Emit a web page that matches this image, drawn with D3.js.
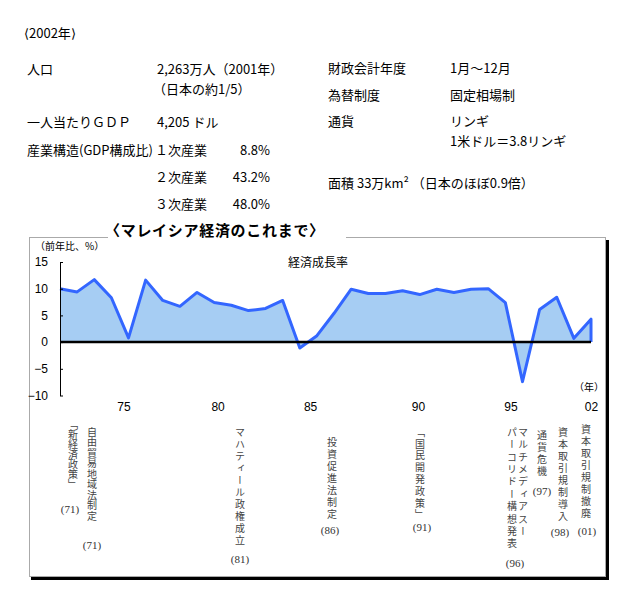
<!DOCTYPE html>
<html>
<head>
<meta charset="utf-8">
<script src="https://cdn.jsdelivr.net/npm/d3@7"></script>
<style>
body { margin: 0; background: #fff; }
svg text { font-family: "Noto Sans CJK JP", sans-serif; fill: #000; }
.num { font-family: "Liberation Sans", Arial, sans-serif; }
.ann { fill: #444; }
.yr { font-family: "Liberation Serif", "DejaVu Serif", serif; fill: #333; }
</style>
</head>
<body>
<script>
// 経済成長率 (前年比、%)
var years = [1971, 1972, 1973, 1974, 1975, 1976, 1977, 1978, 1979, 1980,
	1981, 1982, 1983, 1984, 1985, 1986, 1987, 1988, 1989, 1990,
	1991, 1992, 1993, 1994, 1995, 1996, 1997, 1998, 1999, 2000,
	2001, 2002];
var growth = [10.0, 9.4, 11.7, 8.3, 0.8, 11.6, 7.8, 6.7, 9.3, 7.4,
	6.9, 5.9, 6.3, 7.8, -1.1, 1.2, 5.4, 9.9, 9.1, 9.1,
	9.6, 8.9, 9.9, 9.3, 9.9, 10.0, 7.4, -7.4, 6.1, 8.4,
	0.7, 4.3];

// axis ticks
var yTicks = [-10, -5, 0, 5, 10, 15];
var xTickAt = [1974.7, 1980.2, 1985.6, 1991.9, 1997.3, 2002];
var xTickLabels = ["75", "80", "85", "90", "95", "02"];

// 年表 (columns are read right to left)
var eventCols = [
	["「新経済政策」"],
	["自由貿易地域法制定"],
	["マハティール政権成立"],
	["投資促進法制定"],
	["「国民開発政策」"],
	["マルチメディアスー", "パーコリドー構想発表"],
	["通貨危機"],
	["資本取引規制導入"],
	["資本取引規制撤廃"]
];
var eventYears = ["(71)", "(71)", "(81)", "(86)", "(91)", "(96)", "(97)", "(98)", "(01)"];

var W = 642, H = 607;
var svg = d3.select("body").append("svg")
	.attr("width", W)
	.attr("height", H);

// ---- header table ----
var info = [
	{ t: "⟨2002年⟩", x: 24, y: 33 },
	{ t: "人口", x: 27, y: 69 },
	{ t: "2,263万人（2001年）", x: 157, y: 69 },
	{ t: "（日本の約1/5）", x: 153, y: 89 },
	{ t: "一人当たりＧＤＰ", x: 27, y: 122 },
	{ t: "4,205 ドル", x: 157, y: 122 },
	{ t: "産業構造(GDP構成比)", x: 27, y: 150 },
	{ t: "１次産業", x: 155, y: 150 },
	{ t: "２次産業", x: 155, y: 177 },
	{ t: "３次産業", x: 155, y: 204 },
	{ t: "8.8%", x: 270, y: 150, end: true },
	{ t: "43.2%", x: 270, y: 177, end: true },
	{ t: "48.0%", x: 270, y: 204, end: true },
	{ t: "財政会計年度", x: 328, y: 68 },
	{ t: "1月～12月", x: 450, y: 68 },
	{ t: "為替制度", x: 328, y: 95 },
	{ t: "固定相場制", x: 450, y: 95 },
	{ t: "通貨", x: 328, y: 121 },
	{ t: "リンギ", x: 450, y: 121 },
	{ t: "1米ドル＝3.8リンギ", x: 450, y: 141 },
	{ t: "面積 33万km² （日本のほぼ0.9倍）", x: 328, y: 183 }
];
svg.append("g").selectAll("text")
	.data(info)
	.enter().append("text")
	.attr("x", function (d) { return d.x; })
	.attr("y", function (d) { return d.y; })
	.attr("dy", "0.35em")
	.attr("text-anchor", function (d) { return d.end ? "end" : "start"; })
	.style("font-size", "13px")
	.text(function (d) { return d.t; });

// ---- frame ----
var box = { left: 29, top: 237, right: 605, bottom: 576 };
svg.append("rect")
	.attr("x", box.right + 1).attr("y", box.top + 3)
	.attr("width", 3).attr("height", box.bottom - box.top)
	.attr("fill", "#000");
svg.append("rect")
	.attr("x", box.left + 2).attr("y", box.bottom + 1)
	.attr("width", box.right - box.left + 2).attr("height", 3)
	.attr("fill", "#000");
svg.append("rect")
	.attr("x", box.left + 0.5).attr("y", box.top + 0.5)
	.attr("width", box.right - box.left).attr("height", box.bottom - box.top)
	.attr("fill", "#fff")
	.attr("stroke", "#555")
	.attr("stroke-dasharray", "1,1");

// title sits on the top border
svg.append("rect")
	.attr("x", 108).attr("y", 226)
	.attr("width", 238).attr("height", 16)
	.attr("fill", "#fff");
svg.append("text")
	.attr("x", 105).attr("y", 231)
	.attr("dy", "0.35em")
	.style("font-size", "15px")
	.style("font-weight", "bold")
	.style("letter-spacing", "0.7px")
	.text("〈マレイシア経済のこれまで〉");

// ---- chart ----
var x = d3.scaleLinear().domain([1971, 2002]).range([60, 591]);
var y = d3.scaleLinear().domain([-10, 15]).range([395.5, 262]);

var data = years.map(function (yr, i) { return { year: yr, v: growth[i] }; });

var area = d3.area()
	.x(function (d) { return x(d.year); })
	.y0(y(0))
	.y1(function (d) { return y(d.v); });

svg.append("path")
	.datum(data)
	.attr("d", area)
	.attr("fill", "#a6cdf3");

var line = d3.line()
	.x(function (d) { return x(d.year); })
	.y(function (d) { return y(d.v); });

var last = data[data.length - 1];
svg.append("path")
	.datum(data.concat([{ year: last.year, v: 0 }]))
	.attr("d", line)
	.attr("fill", "none")
	.attr("stroke", "#3366ff")
	.attr("stroke-width", 3)
	.attr("stroke-linejoin", "round");

// zero line
svg.append("line")
	.attr("x1", x(years[0])).attr("x2", x(last.year))
	.attr("y1", y(0)).attr("y2", y(0))
	.attr("stroke", "#000")
	.attr("stroke-width", 2.5);

// y axis
var yAxis = svg.append("g")
	.attr("transform", "translate(" + x(years[0]) + ",0)")
	.call(d3.axisLeft(y).tickValues(yTicks).tickSizeInner(-3).tickSizeOuter(0).tickPadding(12));
yAxis.selectAll("text").attr("class", "num").style("font-size", "12px").attr("fill", "#000");
yAxis.select(".domain").attr("stroke", "#000");

// x labels
var xAxis = svg.append("g")
	.attr("transform", "translate(0,400)")
	.call(d3.axisBottom(x).tickValues(xTickAt)
		.tickFormat(function (d, i) { return xTickLabels[i]; })
		.tickSize(0).tickPadding(2));
xAxis.select(".domain").remove();
xAxis.selectAll("text").attr("class", "num").style("font-size", "12px").attr("fill", "#000");

svg.append("text")
	.attr("x", 35).attr("y", 246)
	.attr("dy", "0.35em")
	.style("font-size", "10px")
	.text("（前年比、%）");

svg.append("text")
	.attr("x", 288).attr("y", 263)
	.attr("dy", "0.35em")
	.style("font-size", "12px")
	.text("経済成長率");

svg.append("text")
	.attr("x", 589).attr("y", 387)
	.attr("dy", "0.35em")
	.attr("text-anchor", "middle")
	.style("font-size", "10px")
	.text("（年）");

// ---- event annotations (vertical) ----
// column centres, first-glyph top, glyph step, and year label spot
var annLayout = [
	{ cx: [73], top: 419, step: 10, yx: 70, yy: 509 },
	{ cx: [92], top: 427, step: 10.5, yx: 92, yy: 545 },
	{ cx: [240], top: 427, step: 12, yx: 240, yy: 559 },
	{ cx: [332], top: 437, step: 12, yx: 330, yy: 530 },
	{ cx: [420], top: 427, step: 11.8, yx: 422, yy: 527 },
	{ cx: [523, 512], top: 427, step: 12.4, yx: 515, yy: 563 },
	{ cx: [542], top: 430, step: 12, yx: 542, yy: 491 },
	{ cx: [563], top: 427, step: 12, yx: 560, yy: 532 },
	{ cx: [586], top: 424, step: 12, yx: 587, yy: 531 }
];
var annSize = 10;

var ann = svg.append("g").selectAll("g")
	.data(eventCols)
	.enter().append("g");

ann.each(function (cols, i) {
	var L = annLayout[i];
	var g = d3.select(this);
	cols.forEach(function (s, j) {
		g.append("text")
			.attr("class", "ann")
			.attr("x", L.cx[j])
			.attr("y", L.top)
			.style("writing-mode", "vertical-rl")
			.style("font-size", annSize + "px")
			.style("letter-spacing", (L.step - annSize) + "px")
			.text(s);
	});
	g.append("text")
		.attr("class", "yr")
		.attr("x", L.yx)
		.attr("y", L.yy)
		.attr("dy", "0.35em")
		.attr("text-anchor", "middle")
		.style("font-size", "11px")
		.text(eventYears[i]);
});
</script>
</body>
</html>
